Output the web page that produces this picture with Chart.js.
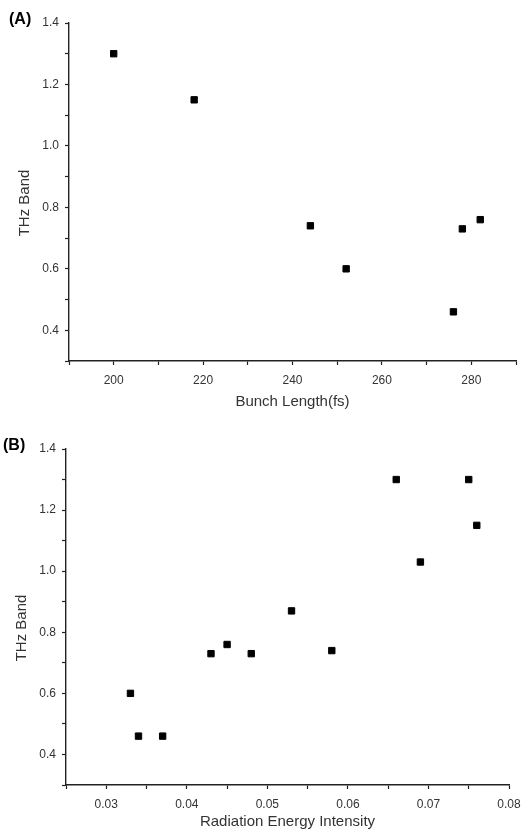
<!DOCTYPE html>
<html>
<head>
<meta charset="utf-8">
<script src="https://cdn.jsdelivr.net/npm/chart.js@4/dist/chart.umd.min.js"></script>
<style>
  body { margin: 0; background: #fff; width: 531px; height: 835px; overflow: hidden; position: relative; }
  .panel { position: absolute; left: 0; }
  .tag { position: absolute; font: bold 16px "Liberation Sans", Arial, sans-serif; color: #000; }
  .ytitle { position: absolute; font: 15px "Liberation Sans", Arial, sans-serif; color: #333; white-space: nowrap;
            transform: translate(-50%, -50%) rotate(-90deg); }
</style>
</head>
<body>
<div class="panel" style="top:0"><canvas id="chartA" width="531" height="415"></canvas></div>
<div class="panel" style="top:415px"><canvas id="chartB" width="531" height="420"></canvas></div>
<div class="tag" style="left:9px;top:10px">(A)</div>
<div class="tag" style="left:3px;top:436px">(B)</div>
<div class="ytitle" style="left:23px;top:203px">THz Band</div>
<div class="ytitle" style="left:20px;top:628px">THz Band</div>
<script>
// panel A: bunch length vs THz band
const bunchLength = [200, 218, 244, 252, 276, 278, 282];
const bandA = [1.3, 1.15, 0.74, 0.6, 0.46, 0.73, 0.76];

// panel B: radiation energy intensity vs THz band
const energy = [0.033, 0.034, 0.037, 0.043, 0.045, 0.048, 0.053, 0.058, 0.066, 0.069, 0.075, 0.076];
const bandB = [0.6, 0.46, 0.46, 0.73, 0.76, 0.73, 0.87, 0.74, 1.3, 1.03, 1.3, 1.15];

const yTickLabels = ['0.4', '0.6', '0.8', '1.0', '1.2', '1.4'];

const axisColor = '#222';
const labelColor = '#333';
const fontFamily = '"Liberation Sans", Arial, sans-serif';

function toPoints(xs, ys) {
    return xs.map((x, i) => ({ x: x, y: ys[i] }));
}

function axis(opts) {
    return Object.assign({
        type: 'linear',
        border: { display: true, color: axisColor, width: 1.4 },
        grid: { drawOnChartArea: false, drawTicks: true, tickLength: 4, tickColor: axisColor, tickWidth: 1.2 },
        ticks: { autoSkip: false, maxRotation: 0, color: labelColor, padding: 8, font: { family: fontFamily, size: 12 } }
    }, opts);
}

function makeChart(id, data, xOpts, box, xTitle, ticksX) {
    const ctx = document.getElementById(id).getContext('2d');
    return new Chart(ctx, {
        type: 'scatter',
        data: {
            datasets: [{
                data: data,
                pointStyle: 'rect',
                pointRadius: 4.5,
                pointBorderWidth: 1,
                backgroundColor: '#000',
                borderColor: '#000'
            }]
        },
        options: {
            responsive: false,
            animation: false,
            layout: { padding: { top: box.top, right: box.right, left: 0, bottom: 0 } },
            plugins: { legend: { display: false }, tooltip: { enabled: false } },
            scales: {
                x: axis({
                    min: xOpts.min,
                    max: xOpts.max,
                    afterFit: s => { s.height = box.xHeight; },
                    title: { display: true, text: xTitle, color: labelColor, padding: { top: 0, bottom: 4 }, font: { family: fontFamily, size: 15 } },
                    ticks: Object.assign({}, axis({}).ticks, { stepSize: xOpts.step, callback: ticksX })
                }),
                y: axis({
                    min: 0.3,
                    max: 1.4,
                    afterFit: s => { s.width = box.yWidth; },
                    ticks: Object.assign({}, axis({}).ticks, {
                        stepSize: 0.1,
                        padding: 6,
                        callback: v => {
                            const s = v.toFixed(1);
                            return yTickLabels.includes(s) ? s : '';
                        }
                    })
                })
            }
        }
    });
}

makeChart('chartA', toPoints(bunchLength, bandA),
    { min: 190, max: 290, step: 10 },
    { top: 23, right: 15, xHeight: 54, yWidth: 69 },
    'Bunch Length(fs)',
    v => (Math.round(v) % 20 === 0 ? String(Math.round(v)) : ''));

makeChart('chartB', toPoints(energy, bandB),
    { min: 0.025, max: 0.08, step: 0.005 },
    { top: 34, right: 22, xHeight: 50, yWidth: 66 },
    'Radiation Energy Intensity',
    v => {
        const n = Math.round(v * 1000);
        return n % 10 === 0 ? (n / 1000).toFixed(2) : '';
    });
</script>
</body>
</html>
